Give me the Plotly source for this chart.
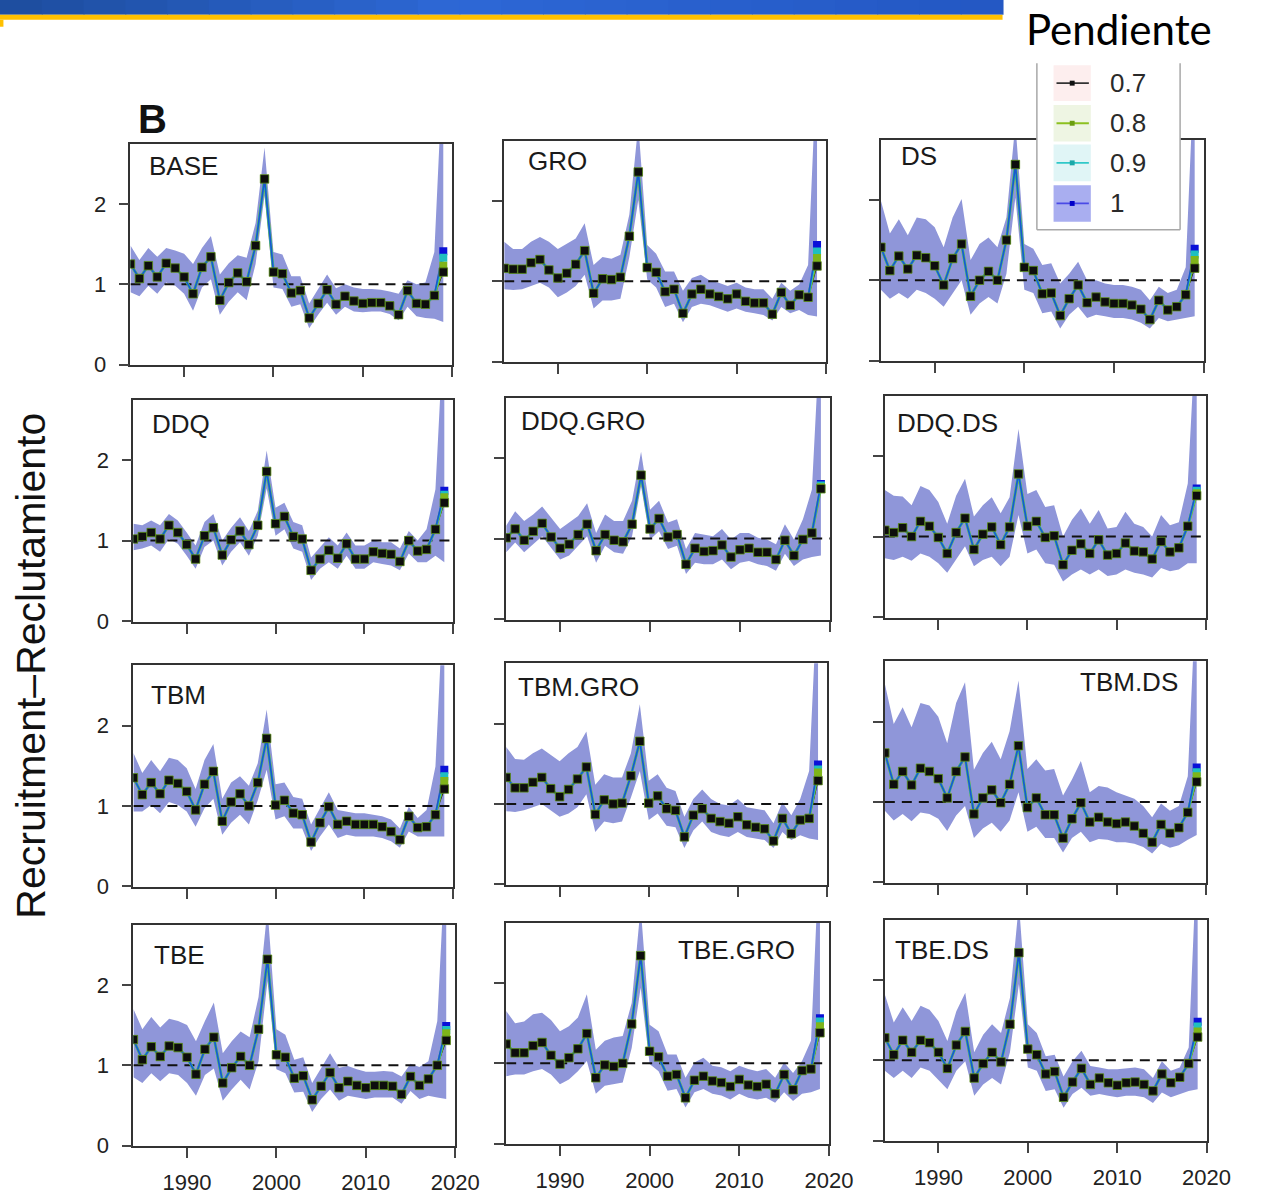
import plotly.graph_objects as go

# ---------------- data ----------------
YEARS = list(range(1984, 2020))
PANELS = ["BASE", "GRO", "DS", "DDQ", "DDQ.GRO", "DDQ.DS",
          "TBM", "TBM.GRO", "TBM.DS", "TBE", "TBE.GRO", "TBE.DS"]
SLOPES = ["0.7", "0.8", "0.9", "1"]
REF_LEVEL = 1.0

BASE_MID = [1.25, 1.07, 1.23, 1.09, 1.26, 1.20, 1.09, 0.88, 1.21, 1.34, 0.80, 1.02, 1.14, 1.03, 1.48, 2.31, 1.15, 1.13, 0.89, 0.92, 0.58, 0.76, 0.93, 0.75, 0.85, 0.79, 0.76, 0.77, 0.77, 0.73, 0.62, 0.92, 0.76, 0.75, 0.86, 1.15]
BASE_HI = [1.48, 1.30, 1.45, 1.34, 1.45, 1.42, 1.38, 1.25, 1.45, 1.60, 1.12, 1.26, 1.36, 1.33, 1.76, 2.70, 1.40, 1.37, 1.10, 1.10, 0.76, 0.94, 1.12, 0.95, 1.00, 0.96, 0.94, 0.94, 0.93, 0.91, 0.88, 1.05, 1.00, 1.02, 1.40, 3.80]
BASE_LO = [0.90, 0.85, 0.98, 0.88, 1.02, 0.98, 0.88, 0.67, 0.96, 1.06, 0.62, 0.78, 0.90, 0.80, 1.25, 2.10, 0.96, 0.94, 0.72, 0.75, 0.45, 0.62, 0.77, 0.62, 0.72, 0.66, 0.65, 0.66, 0.66, 0.63, 0.55, 0.72, 0.60, 0.58, 0.57, 0.53]

GRO_MID = [1.16, 1.15, 1.15, 1.23, 1.27, 1.14, 1.04, 1.10, 1.21, 1.38, 0.85, 1.03, 1.02, 1.05, 1.56, 2.36, 1.17, 1.11, 0.87, 0.90, 0.60, 0.84, 0.90, 0.84, 0.81, 0.78, 0.84, 0.75, 0.73, 0.73, 0.59, 0.86, 0.70, 0.83, 0.80, 1.19]
GRO_HI = [1.49, 1.40, 1.40, 1.49, 1.55, 1.49, 1.40, 1.47, 1.53, 1.72, 1.20, 1.30, 1.28, 1.33, 1.83, 2.95, 1.45, 1.34, 1.12, 1.12, 0.88, 1.04, 1.08, 1.01, 0.98, 0.94, 0.98, 0.92, 0.90, 0.90, 0.78, 0.98, 0.88, 0.96, 1.20, 3.80]
GRO_LO = [0.90, 0.89, 0.90, 0.94, 0.98, 0.92, 0.80, 0.86, 0.94, 1.08, 0.66, 0.76, 0.76, 0.78, 1.30, 2.01, 1.02, 0.92, 0.68, 0.72, 0.49, 0.68, 0.72, 0.70, 0.66, 0.62, 0.66, 0.62, 0.60, 0.58, 0.51, 0.68, 0.60, 0.64, 0.58, 0.56]

DS_MID = [1.41, 1.12, 1.30, 1.14, 1.31, 1.28, 1.18, 0.94, 1.27, 1.45, 0.80, 1.00, 1.11, 1.00, 1.50, 2.44, 1.16, 1.12, 0.83, 0.84, 0.56, 0.77, 0.94, 0.72, 0.79, 0.73, 0.71, 0.71, 0.69, 0.64, 0.51, 0.75, 0.63, 0.67, 0.82, 1.15]
DS_HI = [1.99, 1.58, 1.76, 1.56, 1.78, 1.76, 1.66, 1.41, 1.78, 2.01, 1.25, 1.45, 1.53, 1.41, 1.78, 2.95, 1.45, 1.39, 1.19, 1.21, 0.96, 1.08, 1.23, 1.00, 1.00, 0.96, 0.94, 0.94, 0.92, 0.88, 0.75, 0.92, 0.84, 0.88, 1.16, 3.80]
DS_LO = [0.88, 0.77, 0.84, 0.77, 0.88, 0.84, 0.77, 0.67, 0.84, 1.00, 0.57, 0.71, 0.79, 0.71, 1.08, 2.03, 0.88, 0.84, 0.59, 0.61, 0.40, 0.57, 0.67, 0.53, 0.57, 0.55, 0.53, 0.53, 0.51, 0.47, 0.40, 0.53, 0.49, 0.51, 0.53, 0.55]

DDQ_MID = [1.02, 1.05, 1.10, 1.02, 1.19, 1.10, 0.95, 0.77, 1.06, 1.16, 0.82, 1.01, 1.12, 0.95, 1.19, 1.86, 1.21, 1.30, 1.05, 1.02, 0.63, 0.77, 0.88, 0.78, 0.96, 0.77, 0.77, 0.86, 0.84, 0.83, 0.74, 1.00, 0.87, 0.89, 1.14, 1.47]
DDQ_HI = [1.21, 1.19, 1.25, 1.19, 1.33, 1.25, 1.10, 0.94, 1.23, 1.33, 1.00, 1.16, 1.29, 1.12, 1.37, 2.12, 1.41, 1.47, 1.23, 1.19, 0.79, 0.92, 1.04, 0.94, 1.10, 0.94, 0.94, 1.00, 0.98, 0.98, 0.90, 1.12, 1.00, 1.14, 1.64, 3.80]
DDQ_LO = [0.88, 0.90, 0.94, 0.86, 1.02, 0.96, 0.81, 0.65, 0.92, 1.00, 0.69, 0.86, 0.98, 0.81, 1.06, 1.65, 1.06, 1.14, 0.90, 0.86, 0.51, 0.65, 0.73, 0.65, 0.81, 0.65, 0.65, 0.73, 0.71, 0.69, 0.63, 0.84, 0.73, 0.73, 0.81, 0.73]

DDQ_GRO_MID = [1.01, 1.12, 0.98, 1.09, 1.19, 1.02, 0.88, 0.93, 1.05, 1.18, 0.85, 1.05, 0.98, 0.96, 1.18, 1.79, 1.12, 1.25, 1.02, 1.05, 0.68, 0.88, 0.84, 0.85, 0.92, 0.77, 0.86, 0.88, 0.83, 0.83, 0.74, 0.98, 0.79, 0.99, 1.07, 1.62]
DDQ_GRO_HI = [1.16, 1.34, 1.22, 1.30, 1.40, 1.26, 1.12, 1.20, 1.28, 1.44, 1.07, 1.30, 1.22, 1.22, 1.47, 2.08, 1.36, 1.47, 1.20, 1.24, 0.87, 1.07, 1.05, 1.03, 1.12, 0.99, 1.07, 1.07, 1.01, 0.99, 0.93, 1.18, 0.99, 1.24, 1.61, 3.80]
DDQ_GRO_LO = [0.83, 0.95, 0.83, 0.93, 1.03, 0.89, 0.74, 0.79, 0.91, 1.03, 0.70, 0.91, 0.83, 0.81, 1.03, 1.65, 0.99, 1.09, 0.87, 0.91, 0.56, 0.70, 0.68, 0.68, 0.74, 0.62, 0.70, 0.72, 0.68, 0.66, 0.60, 0.81, 0.66, 0.74, 0.77, 0.79]

DDQ_DS_MID = [1.08, 1.05, 1.11, 1.00, 1.19, 1.13, 0.99, 0.79, 1.05, 1.23, 0.84, 1.03, 1.12, 0.90, 1.12, 1.78, 1.13, 1.19, 0.99, 1.01, 0.65, 0.83, 0.91, 0.79, 0.96, 0.77, 0.79, 0.92, 0.82, 0.81, 0.72, 0.94, 0.81, 0.86, 1.13, 1.51]
DDQ_DS_HI = [1.58, 1.51, 1.50, 1.39, 1.63, 1.58, 1.43, 1.16, 1.51, 1.72, 1.25, 1.39, 1.49, 1.29, 1.49, 2.34, 1.53, 1.58, 1.37, 1.39, 1.00, 1.21, 1.35, 1.16, 1.33, 1.10, 1.12, 1.31, 1.16, 1.12, 1.00, 1.27, 1.14, 1.18, 1.66, 3.80]
DDQ_DS_LO = [0.73, 0.71, 0.75, 0.70, 0.79, 0.75, 0.67, 0.55, 0.71, 0.88, 0.63, 0.71, 0.75, 0.63, 0.75, 1.27, 0.79, 0.84, 0.67, 0.65, 0.44, 0.53, 0.59, 0.53, 0.59, 0.51, 0.53, 0.59, 0.55, 0.53, 0.49, 0.61, 0.57, 0.59, 0.67, 0.67]

TBM_MID = [1.35, 1.14, 1.29, 1.15, 1.32, 1.28, 1.18, 0.95, 1.27, 1.43, 0.81, 1.05, 1.15, 1.00, 1.29, 1.84, 1.01, 1.07, 0.91, 0.89, 0.55, 0.79, 0.99, 0.77, 0.81, 0.77, 0.77, 0.77, 0.74, 0.68, 0.58, 0.87, 0.73, 0.74, 0.89, 1.21]
TBM_HI = [1.66, 1.41, 1.57, 1.43, 1.60, 1.57, 1.47, 1.21, 1.57, 1.77, 1.09, 1.29, 1.37, 1.25, 1.53, 2.20, 1.27, 1.29, 1.11, 1.09, 0.77, 0.97, 1.17, 0.95, 0.93, 0.91, 0.91, 0.89, 0.87, 0.83, 0.72, 0.99, 0.85, 0.95, 1.49, 3.80]
TBM_LO = [0.93, 0.93, 1.01, 0.91, 1.05, 1.01, 0.93, 0.74, 0.97, 1.09, 0.64, 0.79, 0.89, 0.77, 1.07, 1.45, 0.83, 0.87, 0.72, 0.72, 0.44, 0.62, 0.77, 0.60, 0.64, 0.62, 0.62, 0.62, 0.60, 0.56, 0.48, 0.68, 0.62, 0.62, 0.62, 0.62]

TBM_GRO_MID = [1.33, 1.20, 1.20, 1.27, 1.33, 1.19, 1.09, 1.18, 1.31, 1.46, 0.87, 1.05, 1.00, 1.01, 1.35, 1.78, 1.01, 1.10, 0.94, 0.92, 0.59, 0.86, 0.94, 0.82, 0.78, 0.76, 0.84, 0.74, 0.71, 0.69, 0.54, 0.82, 0.63, 0.80, 0.82, 1.29]
TBM_GRO_HI = [1.71, 1.56, 1.55, 1.63, 1.69, 1.61, 1.53, 1.63, 1.71, 1.90, 1.24, 1.37, 1.33, 1.33, 1.63, 2.24, 1.29, 1.37, 1.20, 1.16, 0.84, 1.06, 1.18, 1.06, 1.00, 0.98, 1.06, 0.96, 0.94, 0.92, 0.76, 1.02, 0.86, 1.06, 1.41, 3.80]
TBM_GRO_LO = [0.91, 0.90, 0.92, 0.96, 1.00, 0.92, 0.84, 0.88, 0.96, 1.12, 0.65, 0.78, 0.76, 0.78, 1.08, 1.41, 0.80, 0.88, 0.73, 0.71, 0.45, 0.67, 0.78, 0.65, 0.61, 0.59, 0.65, 0.59, 0.57, 0.55, 0.45, 0.65, 0.55, 0.61, 0.57, 0.55]

TBM_DS_MID = [1.61, 1.22, 1.38, 1.21, 1.42, 1.38, 1.29, 1.05, 1.38, 1.56, 0.85, 1.05, 1.15, 0.99, 1.22, 1.70, 0.93, 1.05, 0.84, 0.84, 0.55, 0.79, 0.99, 0.75, 0.81, 0.75, 0.73, 0.75, 0.70, 0.61, 0.50, 0.72, 0.61, 0.68, 0.87, 1.25]
TBM_DS_HI = [2.47, 1.97, 2.18, 1.93, 2.23, 2.20, 2.06, 1.73, 2.23, 2.49, 1.40, 1.61, 1.75, 1.53, 1.88, 2.51, 1.41, 1.53, 1.39, 1.41, 1.08, 1.28, 1.51, 1.12, 1.20, 1.18, 1.12, 1.08, 1.04, 0.95, 0.81, 0.98, 0.89, 0.95, 1.32, 3.80]
TBM_DS_LO = [0.89, 0.77, 0.85, 0.76, 0.87, 0.85, 0.79, 0.64, 0.83, 0.95, 0.55, 0.67, 0.74, 0.63, 0.77, 1.12, 0.63, 0.69, 0.55, 0.55, 0.37, 0.55, 0.63, 0.50, 0.54, 0.53, 0.50, 0.50, 0.48, 0.44, 0.36, 0.48, 0.43, 0.46, 0.53, 0.59]

TBE_MID = [1.32, 1.07, 1.23, 1.11, 1.24, 1.22, 1.10, 0.89, 1.20, 1.35, 0.78, 0.97, 1.11, 1.00, 1.45, 2.32, 1.13, 1.10, 0.84, 0.87, 0.57, 0.74, 0.91, 0.72, 0.80, 0.75, 0.72, 0.75, 0.75, 0.74, 0.64, 0.86, 0.75, 0.83, 1.00, 1.31]
TBE_HI = [1.70, 1.45, 1.60, 1.47, 1.58, 1.55, 1.50, 1.30, 1.55, 1.78, 1.15, 1.30, 1.42, 1.35, 1.85, 2.95, 1.45, 1.38, 1.07, 1.10, 0.78, 0.96, 1.15, 0.97, 0.99, 0.95, 0.92, 0.92, 0.93, 0.92, 0.86, 1.02, 0.98, 1.05, 1.55, 3.80]
TBE_LO = [0.85, 0.78, 0.90, 0.80, 0.90, 0.88, 0.78, 0.62, 0.88, 0.96, 0.56, 0.70, 0.82, 0.70, 1.05, 2.05, 0.95, 0.90, 0.66, 0.67, 0.42, 0.58, 0.70, 0.56, 0.62, 0.60, 0.58, 0.60, 0.60, 0.60, 0.52, 0.68, 0.58, 0.62, 0.60, 0.58]

TBE_GRO_MID = [1.24, 1.13, 1.13, 1.22, 1.26, 1.10, 0.99, 1.07, 1.18, 1.37, 0.82, 0.98, 0.96, 1.00, 1.49, 2.34, 1.15, 1.08, 0.84, 0.86, 0.57, 0.79, 0.84, 0.78, 0.76, 0.71, 0.80, 0.73, 0.71, 0.74, 0.62, 0.86, 0.67, 0.91, 0.93, 1.38]
TBE_GRO_HI = [1.65, 1.50, 1.52, 1.61, 1.63, 1.54, 1.40, 1.46, 1.57, 1.86, 1.17, 1.28, 1.32, 1.34, 1.75, 2.95, 1.48, 1.40, 1.11, 1.11, 0.82, 1.01, 1.07, 0.97, 0.95, 0.90, 0.97, 0.93, 0.90, 0.93, 0.82, 1.01, 0.88, 1.03, 1.28, 3.80]
TBE_GRO_LO = [0.84, 0.86, 0.86, 0.90, 0.93, 0.86, 0.74, 0.80, 0.90, 1.03, 0.62, 0.72, 0.74, 0.76, 1.19, 1.94, 0.99, 0.90, 0.66, 0.68, 0.45, 0.64, 0.68, 0.62, 0.60, 0.55, 0.62, 0.57, 0.55, 0.57, 0.51, 0.64, 0.53, 0.62, 0.64, 0.68]

TBE_DS_MID = [1.28, 1.07, 1.25, 1.10, 1.25, 1.22, 1.10, 0.90, 1.19, 1.36, 0.78, 0.96, 1.10, 0.98, 1.45, 2.34, 1.14, 1.07, 0.83, 0.86, 0.54, 0.73, 0.90, 0.70, 0.78, 0.72, 0.69, 0.72, 0.73, 0.70, 0.62, 0.83, 0.72, 0.79, 0.96, 1.29]
TBE_DS_HI = [1.82, 1.47, 1.66, 1.49, 1.68, 1.63, 1.49, 1.24, 1.61, 1.84, 1.10, 1.32, 1.45, 1.34, 1.78, 2.95, 1.45, 1.34, 1.05, 1.07, 0.80, 0.99, 1.12, 0.93, 0.91, 0.89, 0.89, 0.90, 0.91, 0.89, 0.78, 0.99, 0.87, 0.91, 1.16, 3.80]
TBE_DS_LO = [0.87, 0.78, 0.87, 0.78, 0.91, 0.87, 0.76, 0.64, 0.87, 0.99, 0.56, 0.70, 0.78, 0.70, 1.10, 1.95, 0.91, 0.87, 0.62, 0.64, 0.41, 0.58, 0.66, 0.56, 0.58, 0.56, 0.54, 0.56, 0.56, 0.54, 0.47, 0.60, 0.54, 0.58, 0.62, 0.64]

# final-year value for the steeper slopes (earlier years identical to slope 0.7)
END_08 = [1.23, 1.29, 1.25, 1.54, 1.64, 1.54, 1.31, 1.39, 1.32, 1.40, 1.46, 1.36]
END_09 = [1.33, 1.37, 1.32, 1.57, 1.66, 1.57, 1.37, 1.43, 1.37, 1.44, 1.52, 1.42]
END_10 = [1.41, 1.45, 1.39, 1.62, 1.68, 1.60, 1.45, 1.49, 1.43, 1.49, 1.56, 1.48]

MIDS = [BASE_MID, GRO_MID, DS_MID, DDQ_MID, DDQ_GRO_MID, DDQ_DS_MID,
        TBM_MID, TBM_GRO_MID, TBM_DS_MID, TBE_MID, TBE_GRO_MID, TBE_DS_MID]
HIS = [BASE_HI, GRO_HI, DS_HI, DDQ_HI, DDQ_GRO_HI, DDQ_DS_HI,
       TBM_HI, TBM_GRO_HI, TBM_DS_HI, TBE_HI, TBE_GRO_HI, TBE_DS_HI]
LOS = [BASE_LO, GRO_LO, DS_LO, DDQ_LO, DDQ_GRO_LO, DDQ_DS_LO,
       TBM_LO, TBM_GRO_LO, TBM_DS_LO, TBE_LO, TBE_GRO_LO, TBE_DS_LO]

X_TICKS = [1990, 2000, 2010, 2020]
Y_TICKS = [0, 1, 2]

# ---------------- layout constants ----------------
W, H = 1261, 1203
# panel boxes in pixels: (left, right, top, bottom)
BOXES = [
    (133, 461, 145, 369), (514, 842, 142, 366), (898, 1227, 141, 365),
    (136, 462, 404, 628), (516, 846, 402, 626), (902, 1229, 400, 624),
    (136, 462, 672, 896), (516, 843, 670, 894), (902, 1229, 668, 892),
    (136, 464, 934, 1158), (516, 845, 932, 1156), (902, 1230, 929, 1153),
]
# panel label positions: (x px, y px, anchor)
LABEL_POS = [
    (150, 168, "left"), (536, 163, "left"), (916, 158, "left"),
    (153, 428, "left"), (529, 425, "left"), (912, 427, "left"),
    (152, 702, "left"), (526, 694, "left"), (1203, 689, "right"),
    (155, 965, "left"), (812, 960, "right"), (910, 960, "left"),
]

SERIES_COLORS = {"0.7": "#111111", "0.8": "#7fb81c", "0.9": "#22c4c4", "1": "#1a58cc"}
MARKER_COLORS = {"0.7": "#0d0d0d", "0.8": "#7fb51a", "0.9": "#1fbfbf", "1": "#0a10d8"}
LINE_WIDTHS = {"0.7": 1.0, "0.8": 2.8, "0.9": 2.2, "1": 1.7}
BAND_COLOR = "rgb(143,150,217)"
FONT = "Liberation Sans, Arial, sans-serif"


def px(x):
    return x / W


def py(y):
    return 1 - y / H


fig = go.Figure()

for i, name in enumerate(PANELS):
    xa = "x" if i == 0 else f"x{i+1}"
    ya = "y" if i == 0 else f"y{i+1}"
    mid, hi, lo = MIDS[i], HIS[i], LOS[i]
    ends = {"0.7": mid[-1], "0.8": END_08[i], "0.9": END_09[i], "1": END_10[i]}
    series = {s: mid[:-1] + [ends[s]] for s in SLOPES}

    # uncertainty band
    fig.add_trace(go.Scatter(
        x=YEARS + YEARS[::-1], y=hi + lo[::-1], fill="toself",
        fillcolor=BAND_COLOR, line=dict(width=0), mode="lines",
        hoverinfo="skip", showlegend=False, xaxis=xa, yaxis=ya))
    # reference line at 1
    fig.add_trace(go.Scatter(
        x=[YEARS[0], X_TICKS[-1]], y=[REF_LEVEL, REF_LEVEL], mode="lines",
        line=dict(color="#111111", width=2, dash="10px,7px"),
        hoverinfo="skip", showlegend=False, xaxis=xa, yaxis=ya))
    # lines
    for s in SLOPES:
        fig.add_trace(go.Scatter(
            x=YEARS, y=series[s], mode="lines",
            line=dict(color=SERIES_COLORS[s], width=LINE_WIDTHS[s]),
            showlegend=False, xaxis=xa, yaxis=ya))
    # markers, black on top
    for s in SLOPES[::-1]:
        fig.add_trace(go.Scatter(
            x=YEARS, y=series[s], mode="markers",
            marker=dict(symbol="square", size=8.5 if s == "0.7" else 8,
                        color=MARKER_COLORS[s],
                        line=dict(width=0.8 if s == "0.7" else 0, color="#5f8f1a")),
            showlegend=False, xaxis=xa, yaxis=ya))

    L, R, T, B = BOXES[i]
    row, col = divmod(i, 3)
    axis_common = dict(showline=True, mirror=True, linecolor="#333333", linewidth=1.8,
                       ticks="outside", ticklen=10, tickwidth=1.5, tickcolor="#444444",
                       showgrid=False, zeroline=False,
                       tickfont=dict(family=FONT, size=22, color="#222222"))
    fig.layout[("xaxis" if i == 0 else f"xaxis{i+1}")] = dict(
        domain=[px(L), px(R)], range=[YEARS[0], X_TICKS[-1]], tickvals=X_TICKS,
        showticklabels=(row == 3), anchor=ya, ticklabelstandoff=5, **axis_common)
    fig.layout[("yaxis" if i == 0 else f"yaxis{i+1}")] = dict(
        domain=[py(B), py(T)], range=[-0.01, 2.75], tickvals=Y_TICKS,
        showticklabels=(col == 0), anchor=xa, ticklabelstandoff=8, **axis_common)

annotations = []
for i, name in enumerate(PANELS):
    lx, ly, anc = LABEL_POS[i]
    annotations.append(dict(x=px(lx), y=py(ly), xref="paper", yref="paper",
                            text=name, showarrow=False, xanchor=anc, yanchor="middle",
                            font=dict(family=FONT, size=26, color="#1a1a1a")))

annotations.append(dict(x=px(155), y=py(120), xref="paper", yref="paper", text="<b>B</b>",
                        showarrow=False, xanchor="center", yanchor="middle",
                        font=dict(family=FONT, size=40, color="#111111")))
annotations.append(dict(x=px(32), y=py(672), xref="paper", yref="paper",
                        text="Recruitment\u2013Reclutamiento", textangle=-90,
                        showarrow=False, xanchor="center", yanchor="middle",
                        font=dict(family=FONT, size=41, color="#111111")))
annotations.append(dict(x=px(1141), y=py(29), xref="paper", yref="paper", text="Pendiente",
                        showarrow=False, xanchor="center", yanchor="middle",
                        font=dict(family="Lato, sans-serif", size=42, color="#000000")))

shapes = []
# top banner (blue gradient + yellow rule)
n_steps = 24
for k in range(n_steps):
    t = k / (n_steps - 1)
    if t < 0.45:
        u = t / 0.45
        c = (int(30 + (46 - 30) * u), int(78 + (104 - 78) * u), int(160 + (214 - 160) * u))
    else:
        u = (t - 0.45) / 0.55
        c = (int(46 + (36 - 46) * u), int(104 + (88 - 104) * u), int(214 + (196 - 214) * u))
    shapes.append(dict(type="rect", xref="paper", yref="paper",
                       x0=px(1022 * k / n_steps), x1=px(1022 * (k + 1) / n_steps + 1),
                       y0=py(15), y1=py(0), fillcolor=f"rgb{c}", line=dict(width=0), layer="above"))
shapes.append(dict(type="rect", xref="paper", yref="paper", x0=px(0), x1=px(1022),
                   y0=py(20), y1=py(15), fillcolor="#ffc000", line=dict(width=0), layer="above"))
shapes.append(dict(type="rect", xref="paper", yref="paper", x0=px(0), x1=px(3.5),
                   y0=py(27), y1=py(20), fillcolor="#ffc000", line=dict(width=0), layer="above"))

# legend box
shapes.append(dict(type="rect", xref="paper", yref="paper", x0=px(1057), x1=px(1203),
                   y0=py(232), y1=py(62), fillcolor="white", line=dict(width=0), layer="above"))
for seg in [((1057, 64), (1057, 232)), ((1203, 64), (1203, 232)), ((1057, 232), (1203, 232))]:
    (xa0, ya0), (xa1, ya1) = seg
    shapes.append(dict(type="line", xref="paper", yref="paper", x0=px(xa0), y0=py(ya0),
                       x1=px(xa1), y1=py(ya1), line=dict(color="#a8a8a8", width=1.5), layer="above"))
LEG_PATCH = {"0.7": "#fdeeee", "0.8": "#eef5e3", "0.9": "#e0f5f6", "1": "#a9aef0"}
LEG_LINE = {"0.7": "#333333", "0.8": "#8cc020", "0.9": "#30c8c8", "1": "#4a4ae6"}
LEG_MARK = {"0.7": "#111111", "0.8": "#6a9e10", "0.9": "#1aa8a8", "1": "#0000c8"}
LEG_ROWS = {"0.7": (66, 102), "0.8": (106, 143), "0.9": (146, 183), "1": (187, 224)}
for s in SLOPES:
    t0, t1 = LEG_ROWS[s]
    cy = (t0 + t1) / 2
    shapes.append(dict(type="rect", xref="paper", yref="paper", x0=px(1074), x1=px(1112),
                       y0=py(t1), y1=py(t0), fillcolor=LEG_PATCH[s], line=dict(width=0), layer="above"))
    shapes.append(dict(type="line", xref="paper", yref="paper", x0=px(1077), x1=px(1110),
                       y0=py(cy), y1=py(cy), line=dict(color=LEG_LINE[s], width=1.8), layer="above"))
    shapes.append(dict(type="rect", xref="paper", yref="paper", x0=px(1090.5), x1=px(1095.5),
                       y0=py(cy + 2.5), y1=py(cy - 2.5), fillcolor=LEG_MARK[s],
                       line=dict(width=0), layer="above"))
    annotations.append(dict(x=px(1130), y=py(cy), xref="paper", yref="paper", text=s,
                            showarrow=False, xanchor="left", yanchor="middle",
                            font=dict(family=FONT, size=26, color="#2a2a2a")))

fig.update_layout(
    width=W, height=H, margin=dict(l=0, r=0, t=0, b=0),
    paper_bgcolor="white", plot_bgcolor="white", showlegend=False,
    annotations=annotations, shapes=shapes,
)

fig.write_html("out.html")
